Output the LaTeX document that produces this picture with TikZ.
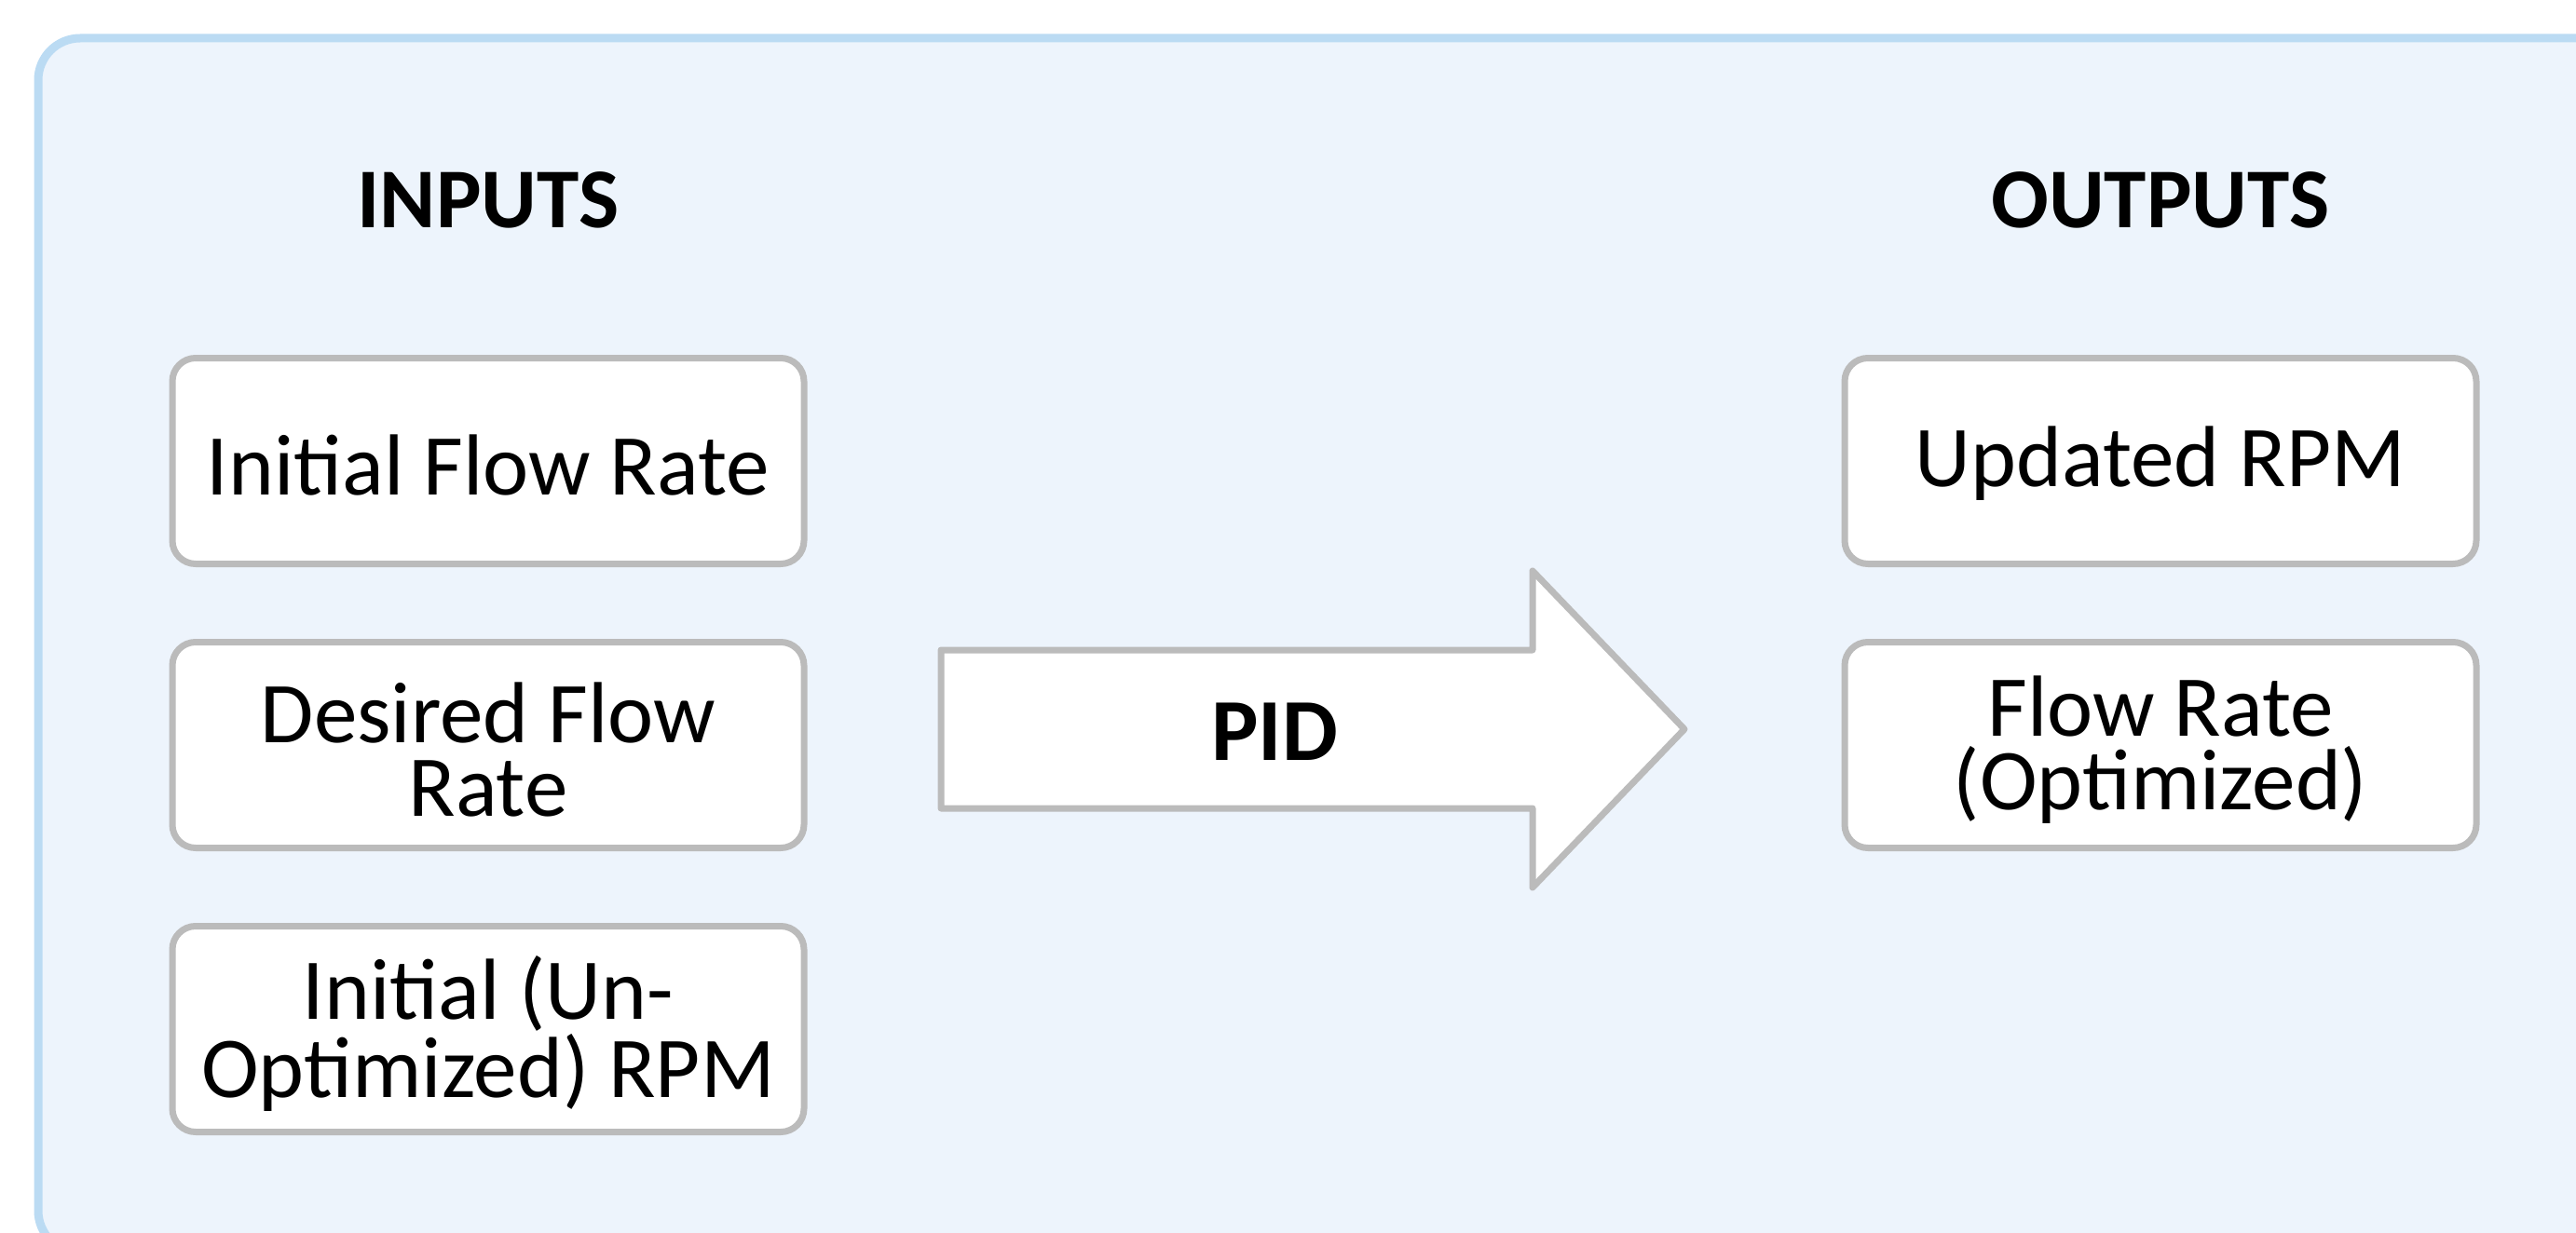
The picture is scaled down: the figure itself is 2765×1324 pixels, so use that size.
\documentclass[tikz,border=0pt]{standalone}
\usepackage{fontspec}
\setmainfont{Carlito}
\definecolor{panelfill}{HTML}{EDF4FC}
\definecolor{panelline}{HTML}{BBDBF3}
\definecolor{boxline}{HTML}{BBBBBB}
\begin{document}
\begin{tikzpicture}[x=0.1mm,y=-0.1mm,
  item/.style={draw=boxline, line width=0.7mm, fill=white, rounded corners=2.5mm,
    minimum width=67.8mm, minimum height=22.1mm},
  itemtext/.style={align=center, inner sep=0pt,
    font=\fontsize{26.5}{22.5}\selectfont},
  heading/.style={font=\bfseries\fontsize{26}{30}\selectfont}]
\useasboundingbox (0,0) rectangle (2765,1324);
% light blue panel behind everything
\draw[panelline, fill=panelfill, line width=0.9mm, rounded corners=4.5mm]
  (41,41) rectangle (2850,1345);
% column headings
\node[heading] (inhead) at (524,215) {INPUTS};
\node[heading] (outhead) at (2319,215) {OUTPUTS};
% input boxes
\node[item] (in1) at (524,495) {};
\node[item] (in2) at (524,800) {};
\node[item] (in3) at (524,1105) {};
\node[itemtext] (in1t) at ([yshift=-0.5mm]in1.center) {Initial Flow Rate};
\node[itemtext] (in2t) at ([yshift=-0.5mm]in2.center) {Desired Flow\\Rate};
\node[itemtext] (in3t) at ([yshift=-0.5mm]in3.center) {Initial (Un-\\Optimized) RPM};
% output boxes
\node[item] (out1) at (2319,495) {};
\node[item] (out2) at (2319,800) {};
\node[itemtext] (out1t) at ([yshift=-0.3mm]out1.center) {Updated RPM};
\node[itemtext] (out2t) at ([yshift=-0.5mm]out2.center) {Flow Rate\\(Optimized)};
% block arrow for the controller
\draw[boxline, fill=white, line width=0.7mm, line join=round]
  (1010,698) -- (1645,698) -- (1645,613) -- (1808,783) -- (1645,953)
  -- (1645,868) -- (1010,868) -- cycle;
\node[font=\bfseries\fontsize{27}{30}\selectfont] (pid) at (1368,786) {PID};
\end{tikzpicture}
\end{document}
